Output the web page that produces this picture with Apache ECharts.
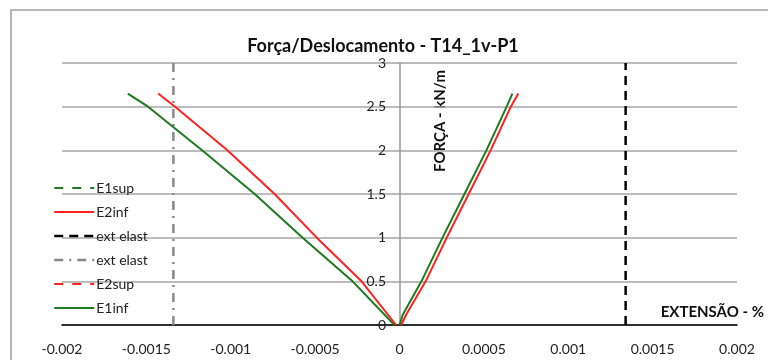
<!DOCTYPE html>
<html>
<head>
<meta charset="utf-8">
<script src="https://cdn.jsdelivr.net/npm/echarts@6/dist/echarts.min.js"></script>
<style>
  html, body { margin: 0; padding: 0; background: #fff; }
  #chart { width: 768px; height: 360px; }
</style>
</head>
<body>
<div id="chart"></div>
<script>
// force levels (kN/m) and strains
const forceSup = [0, 0.5, 1, 1.5, 2, 2.5, 2.65];
const e1supX = [-0.00003, -0.000278, -0.000574, -0.000858, -0.00117, -0.00149, -0.00161];
const e2supX = [-0.00002, -0.000225, -0.00049, -0.00074, -0.00102, -0.00133, -0.00143];

const forceInf = [0, 0.12, 0.5, 1, 1.5, 2, 2.5, 2.65];
const e1infX = [0, 0.00002, 0.00013, 0.000255, 0.000385, 0.000515, 0.000635, 0.000669];
const e2infX = [0.00001, 0.00004, 0.000155, 0.00028, 0.00041, 0.00054, 0.00066, 0.000704];

const extElast = 0.00134;
const yRange = [0, 3];
const xTicks = { min: -0.002, max: 0.002, step: 0.0005 };

const zip = (xs, ys) => xs.map((x, i) => [x, ys[i]]);
const font = 'Lato, "Open Sans", sans-serif';

const chart = echarts.init(document.getElementById('chart'));

const curve = (name, xs, ys, color) => ({
  name, type: 'line', data: zip(xs, ys), symbol: 'none',
  lineStyle: { color, width: 2 }, itemStyle: { color }, z: 5
});

chart.setOption({
  animation: false,
  title: {
    text: 'Força/Deslocamento - T14_1v-P1',
    left: 378, top: 32, textAlign: 'center',
    textStyle: { fontFamily: font, fontSize: 18, fontWeight: 'bold', color: '#111' }
  },
  grid: { left: 62, right: 31, top: 63, bottom: 35 },
  legend: {
    orient: 'vertical', left: 48, top: 176,
    itemWidth: 40, itemHeight: 14, itemGap: 10, itemStyle: { opacity: 0 },
    textStyle: { fontFamily: font, fontSize: 14, color: '#222', padding: [0, 0, 0, -3] },
    data: [
      { name: 'E1sup', lineStyle: { type: [9, 9], color: '#1e7a1e', width: 2 } },
      { name: 'E2inf', lineStyle: { type: 'solid', color: '#ff2020', width: 2 } },
      { name: 'ext elast', lineStyle: { type: [9, 6], color: '#000', width: 2.5 } },
      { name: 'ext elast ', lineStyle: { type: [9, 6, 2, 6], color: '#888', width: 2.5 } },
      { name: 'E2sup', lineStyle: { type: [9, 9], color: '#ff2020', width: 2 } },
      { name: 'E1inf', lineStyle: { type: 'solid', color: '#1e7a1e', width: 2 } }
    ]
  },
  xAxis: {
    type: 'value', min: xTicks.min, max: xTicks.max, interval: xTicks.step,
    axisLine: { onZero: true, lineStyle: { color: '#000', width: 1.5 } },
    axisTick: { show: false },
    splitLine: { show: false },
    axisLabel: { margin: 17, fontFamily: font, fontSize: 14, color: '#222' }
  },
  yAxis: {
    type: 'value', min: yRange[0], max: yRange[1], interval: 0.5,
    offset: -338,
    axisLine: { show: true, onZero: false, lineStyle: { color: '#999', width: 1.5 } },
    axisTick: { show: false },
    splitLine: { lineStyle: { color: '#a6a6a6', width: 1.5 } },
    axisLabel: { margin: 14, fontFamily: font, fontSize: 14, color: '#222' }
  },
  graphic: [
    { type: 'rect', shape: { x: 11, y: 10, width: 780, height: 380 },
      style: { fill: 'none', stroke: '#a0a0a0', lineWidth: 1.5 }, silent: true },
    { type: 'text', x: 440, y: 121, rotation: Math.PI / 2,
      style: { text: 'FORÇA - kN/m', font: 'bold 15px ' + font, fill: '#111',
        textAlign: 'center', textVerticalAlign: 'middle' } },
    { type: 'text', x: 764, y: 312,
      style: { text: 'EXTENSÃO - %', font: 'bold 15px ' + font, fill: '#111',
        textAlign: 'right', textVerticalAlign: 'middle' } }
  ],
  series: [
    curve('E1sup', e1supX, forceSup, '#1e7a1e'),
    curve('E2inf', e2infX, forceInf, '#ff2020'),
    {
      name: 'ext elast', type: 'line', symbol: 'none',
      data: [[extElast, yRange[0]], [extElast, yRange[1]]],
      lineStyle: { color: '#000', width: 2.5, type: [9, 6] }, itemStyle: { color: '#000' }
    },
    {
      name: 'ext elast ', type: 'line', symbol: 'none',
      data: [[-extElast, yRange[0]], [-extElast, yRange[1]]],
      lineStyle: { color: '#888', width: 2.5, type: [9, 6, 2, 6] }, itemStyle: { color: '#888' }
    },
    curve('E2sup', e2supX, forceSup, '#ff2020'),
    curve('E1inf', e1infX, forceInf, '#1e7a1e')
  ]
});
</script>
</body>
</html>
